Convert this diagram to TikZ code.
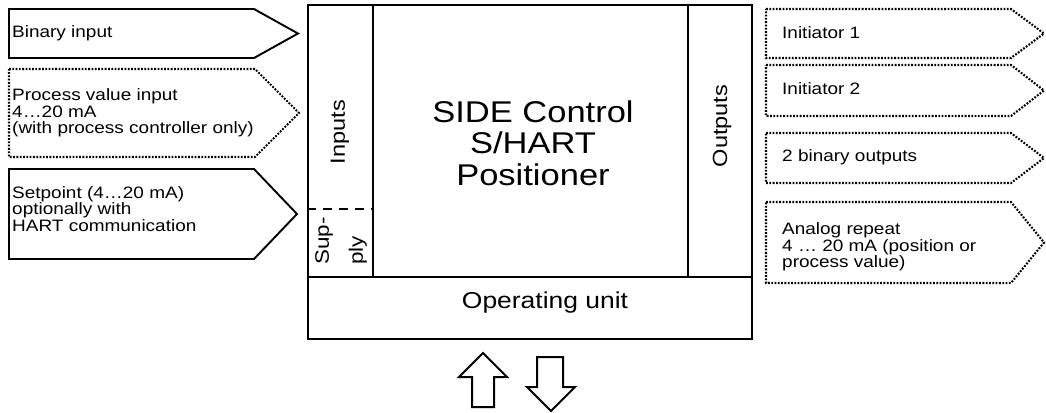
\documentclass[tikz,border=0pt]{standalone}
\usepackage{fontspec}
\setmainfont[FakeStretch=1.15]{Liberation Sans}
\begin{document}
\begin{tikzpicture}[x=1pt, y=-1pt,
        solidtag/.style={line width=1.9pt, line join=miter},
        dottag/.style={line width=2.1pt, dash pattern=on 1.8pt off 1.5pt},
        block/.style={draw, line width=2pt, inner sep=0pt},
        supplydash/.style={line width=2pt, dash pattern=on 9pt off 7pt},
        bigarrow/.style={line width=2pt, line join=miter},
        tagtext/.style={font=\fontsize{16.5}{16.5}\selectfont, align=left, inner sep=0pt, anchor=west},
        colname/.style={font=\fontsize{20.5}{34}\selectfont, rotate=90, inner sep=0pt},
        title_node/.style={font=\fontsize{30}{31.5}\selectfont, align=center, inner sep=0pt}
    ]
    \useasboundingbox (0,0) rectangle (1046,412);

    % Gerät: Spalten und Bedieneinheit
    \node[block, minimum width=65pt, minimum height=272pt] (inputs) at (340.5,141) {};
    \node[block, minimum width=315pt, minimum height=272pt] (core) at (530.5,141) {};
    \node[block, minimum width=64pt, minimum height=272pt] (outputs) at (720,141) {};
    \node[block, minimum width=444pt, minimum height=62pt] (opunit) at (530,308) {};

    % Beschriftungen im Gerät
    \node[title_node] (devname) at (533,143) {SIDE Control\\S/HART\\Positioner};
    \node[colname] (inlabel) at (340,132) {Inputs};
    \node[colname] (outlabel) at (722,126) {Outputs};
    \node[colname, font=\fontsize{19.5}{34}\selectfont, align=left, anchor=west] (supply) at (341,265) {Sup-\\ply};
    \node[font=\fontsize{23}{23}\selectfont, inner sep=0pt] (oplabel) at (545,303) {Operating unit};

    % Trennung Versorgung (gestrichelt)
    \coordinate (sup_l) at (inputs.west |- 0,209);
    \coordinate (sup_r) at (inputs.east |- 0,209);
    \draw[supplydash] (sup_l) -- (sup_r);

    % Eingänge (links)
    \draw[solidtag] (9,9) -- (254,9) -- (298,33.5) -- (254,58) -- (9,58) -- cycle;
    \node[tagtext] (binin) at (12,33) {Binary input};
    \draw[dottag] (9,69) -- (255,69) -- (299,113) -- (255,157) -- (9,157) -- cycle;
    \node[tagtext] (pvin) at (12,113) {Process value input\\4…20 mA\\(with process controller only)};
    \draw[solidtag] (9,169) -- (254,169) -- (297,214) -- (254,259) -- (9,259) -- cycle;
    \node[tagtext] (setpoint) at (12,209) {Setpoint (4…20 mA)\\optionally with\\HART communication};

    % Ausgänge (rechts)
    \draw[dottag] (766,9) -- (1011,9) -- (1044,33.5) -- (1011,58) -- (766,58) -- cycle;
    \node[tagtext] (init1) at (782,33) {Initiator 1};
    \draw[dottag] (766,65) -- (1011,65) -- (1044,90.5) -- (1011,116) -- (766,116) -- cycle;
    \node[tagtext] (init2) at (782,89) {Initiator 2};
    \draw[dottag] (766,133) -- (1011,133) -- (1044,158) -- (1011,183) -- (766,183) -- cycle;
    \node[tagtext] (binout) at (782,157) {2 binary outputs};
    \draw[dottag] (766,202) -- (1011,202) -- (1044,242.5) -- (1011,283) -- (766,283) -- cycle;
    \node[tagtext] (analog) at (782,247) {Analog repeat\\4 … 20 mA (position or\\process value)};

    % Pfeile unter der Bedieneinheit
    \draw[bigarrow] (483,353) -- (507,377) -- (494,377) -- (494,407) -- (472,407) -- (472,377) -- (459,377) -- cycle;
    \draw[bigarrow] (537,357) -- (563,357) -- (563,387) -- (575,387) -- (551,411) -- (527,387) -- (537,387) -- cycle;
\end{tikzpicture}
\end{document}
